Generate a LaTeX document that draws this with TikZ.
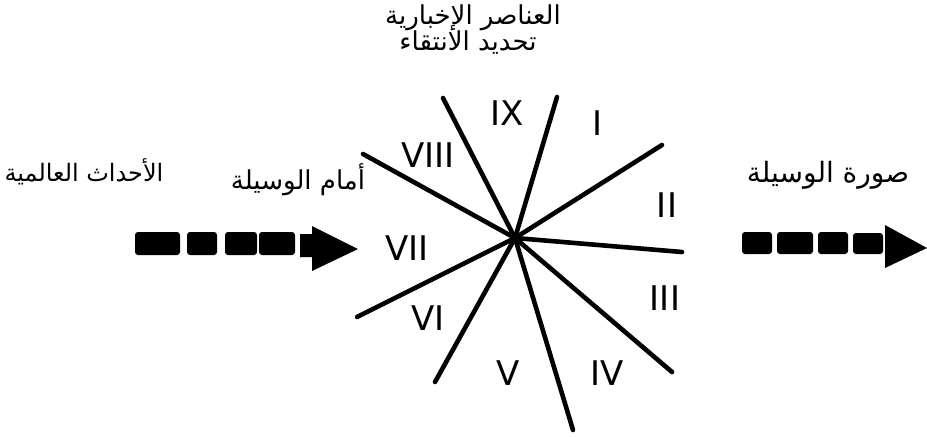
\documentclass[tikz,border=0pt]{standalone}
\usepackage{fontspec}
\setmainfont{DejaVu Sans}
\newfontfamily\arabicfont[Script=Arabic]{DejaVu Sans}
\TeXXeTstate=1
\begin{document}
\begin{tikzpicture}[x=0.5pt,y=-0.5pt,
  ray/.style={line width=2.3pt,line cap=round},
  num/.style={font=\fontsize{17}{17}\selectfont,inner sep=0pt},
  ar/.style={font=\arabicfont\fontsize{13}{15}\selectfont,inner sep=0pt},
  blk/.style={fill=black,rounded corners=1.5pt}]
\useasboundingbox (0,0) rectangle (927,436);
% hub and rays
\coordinate (c) at (515,238);
\coordinate (rA) at (557,97);
\coordinate (rB) at (443,98);
\coordinate (rC) at (363,154);
\coordinate (rD) at (662,145);
\coordinate (rE) at (682,252);
\coordinate (rF) at (672,372);
\coordinate (rG) at (573,430);
\coordinate (rH) at (435,382);
\coordinate (rI) at (357,317);
\foreach \r in {rA,rB,rC,rD,rE,rF,rG,rH,rI} \draw[ray] (c) -- (\r);
\fill (c) circle (4);
% sector labels
\node[num] (n9) at (507,113) {IX};
\node[num] (n1) at (598,123) {I};
\node[num] (n2) at (667,205) {II};
\node[num] (n3) at (665,298) {III};
\node[num] (n4) at (607,373) {IV};
\node[num] (n5) at (508,373) {V};
\node[num] (n6) at (428,318) {VI};
\node[num] (n7) at (407,248) {VII};
\node[num] (n8) at (428,155) {VIII};
% texts
\node[ar] (top1) at (473,18) {\beginR العناصر الإخبارية\endR};
\node[ar] (top2) at (468,43) {\beginR تحديد الانتقاء\endR};
\node[ar,font=\arabicfont\fontsize{12}{14}\selectfont] (world) at (84,172) {\beginR الأحداث العالمية\endR};
\node[ar] (front) at (298,180) {\beginR أمام الوسيلة\endR};
\node[ar,font=\arabicfont\fontsize{14}{16}\selectfont] (image) at (828,175) {\beginR صورة الوسيلة\endR};
% left arrow
\fill[blk] (135,232) rectangle (180,255);
\fill[blk] (187,232) rectangle (217,255);
\fill[blk] (225,232) rectangle (257,255);
\fill[blk] (259,232) rectangle (295,255);
\fill (300,234) -- (312,234) -- (312,226) -- (358,249) -- (312,271) -- (312,257) -- (300,257) -- cycle;
% right arrow
\fill[blk] (742,232) rectangle (772,254);
\fill[blk] (777,232) rectangle (813,254);
\fill[blk] (818,232) rectangle (848,254);
\fill[blk] (853,233) rectangle (883,254);
\fill (885,225) -- (927,248) -- (885,268) -- cycle;
\end{tikzpicture}
\end{document}
